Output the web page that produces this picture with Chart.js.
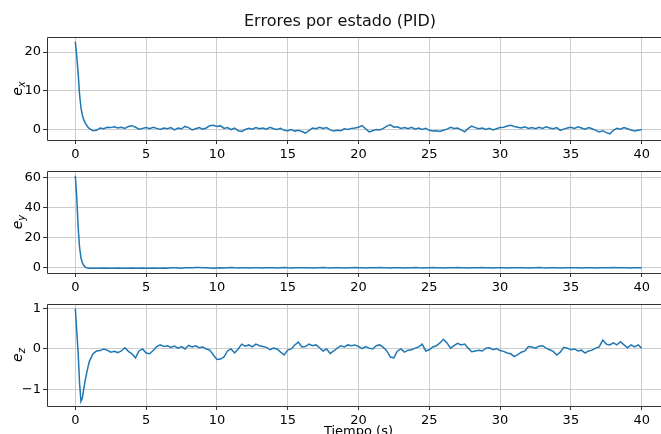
<!DOCTYPE html>
<html>
<head>
<meta charset="utf-8">
<script src="https://cdn.jsdelivr.net/npm/chart.js@4.4.1/dist/chart.umd.min.js"></script>
<style>
  html, body { margin: 0; padding: 0; background: #fff; overflow: hidden; width: 661px; height: 434px; }
  canvas { position: absolute; left: 0; top: 0; }
</style>
</head>
<body>
<canvas id="chartX" width="680" height="450"></canvas>
<canvas id="chartY" width="680" height="450"></canvas>
<canvas id="chartZ" width="680" height="450"></canvas>
<script>
// sample times (s)
const tiempo = [
  0, 0.1, 0.2, 0.3, 0.4, 0.5, 0.6, 0.7, 0.8, 0.9, 1.0,
  1.25, 1.5, 1.75, 2, 2.25, 2.5, 2.75, 3, 3.25, 3.5, 3.75, 4,
  4.25, 4.5, 4.75, 5, 5.25, 5.5, 5.75, 6, 6.25, 6.5, 6.75, 7,
  7.25, 7.5, 7.75, 8, 8.25, 8.5, 8.75, 9, 9.25, 9.5, 9.75, 10,
  10.25, 10.5, 10.75, 11, 11.25, 11.5, 11.75, 12, 12.25, 12.5, 12.75, 13,
  13.25, 13.5, 13.75, 14, 14.25, 14.5, 14.75, 15, 15.25, 15.5, 15.75, 16,
  16.25, 16.5, 16.75, 17, 17.25, 17.5, 17.75, 18, 18.25, 18.5, 18.75, 19,
  19.25, 19.5, 19.75, 20, 20.25, 20.5, 20.75, 21, 21.25, 21.5, 21.75, 22,
  22.25, 22.5, 22.75, 23, 23.25, 23.5, 23.75, 24, 24.25, 24.5, 24.75, 25,
  25.25, 25.5, 25.75, 26, 26.25, 26.5, 26.75, 27, 27.25, 27.5, 27.75, 28,
  28.25, 28.5, 28.75, 29, 29.25, 29.5, 29.75, 30, 30.25, 30.5, 30.75, 31,
  31.25, 31.5, 31.75, 32, 32.25, 32.5, 32.75, 33, 33.25, 33.5, 33.75, 34,
  34.25, 34.5, 34.75, 35, 35.25, 35.5, 35.75, 36, 36.25, 36.5, 36.75, 37,
  37.25, 37.5, 37.75, 38, 38.25, 38.5, 38.75, 39, 39.25, 39.5, 39.75, 40
];

const errX = [
  22.7, 19.0, 14.5, 9.0, 5.6, 3.7, 2.5, 1.7, 1.1, 0.6, 0.2,
  -0.3, -0.2, 0.4, 0.2, 0.6, 0.5, 0.7, 0.4, 0.6, 0.3, 0.8, 1.0,
  0.6, 0.1, 0.3, 0.5, 0.2, 0.6, 0.3, 0.0, 0.4, 0.2, 0.5, -0.1,
  0.4, 0.2, 0.8, 0.5, -0.1, 0.2, 0.5, 0.1, 0.4, 1.0, 1.1, 0.8,
  1.0, 0.3, 0.5, 0.0, 0.4, -0.3, -0.5, 0.0, 0.3, 0.1, 0.5, 0.2,
  0.4, 0.1, 0.6, 0.2, 0.0, 0.3, -0.2, -0.3, 0.0, -0.4, -0.2, -0.5,
  -0.9, -0.3, 0.4, 0.2, 0.6, 0.3, 0.5, -0.1, -0.4, -0.2, -0.3, 0.2,
  0.0, 0.3, 0.4, 0.6, 1.0, 0.2, -0.6, -0.3, 0.0, -0.1, 0.3, 0.9,
  1.2, 0.6, 0.7, 0.3, 0.5, 0.2, 0.6, 0.1, 0.4, 0.0, 0.3, -0.2,
  -0.4, -0.3, -0.5, -0.2, 0.1, 0.6, 0.3, 0.4, -0.1, -0.6, 0.3, 0.9,
  0.5, 0.2, 0.4, 0.0, 0.3, -0.1, 0.2, 0.5, 0.6, 0.9, 1.1, 0.8,
  0.6, 0.4, 0.7, 0.3, 0.5, 0.2, 0.6, 0.3, 0.7, 0.4, 0.2, 0.5,
  -0.2, 0.1, 0.4, 0.6, 0.3, 0.7, 0.4, 0.1, 0.5, 0.2, -0.2, -0.6,
  -0.3, -0.8, -1.1, -0.2, 0.3, 0.1, 0.5, 0.2, -0.1, -0.4, -0.2, 0.0
];

const errY = [
  61, 47, 27, 13.5, 6.5, 3.4, 1.5, 0.5, 0.1, -0.1, -0.2,
  -0.3, -0.2, -0.3, -0.1, -0.2, -0.3, -0.2, -0.1, -0.2, -0.3, -0.2, -0.1,
  -0.2, -0.3, -0.1, -0.2, -0.2, -0.1, -0.3, -0.2, -0.1, -0.2, 0.1, 0.0,
  -0.1, -0.2, 0.0, 0.1, 0.0, 0.2, 0.3, 0.1, 0.0, -0.1, -0.2, -0.1,
  0.0, -0.1, 0.1, 0.2, 0.0, -0.1, 0.1, 0.0, -0.1, 0.0, 0.1, 0.0,
  -0.1, 0.0, 0.1, 0.0, -0.1, 0.1, 0.2, 0.0, -0.1, 0.0, 0.1, 0.0,
  0.1, 0.0, -0.1, 0.0, 0.1, 0.2, 0.0, -0.1, 0.0, 0.1, 0.0, -0.1,
  0.0, 0.1, 0.2, 0.1, 0.0, -0.1, 0.0, 0.1, 0.0, 0.2, 0.1, 0.0,
  -0.1, 0.0, 0.1, 0.0, -0.1, 0.0, 0.1, 0.2, 0.0, -0.1, 0.0, 0.1,
  0.2, 0.1, 0.0, -0.1, 0.0, 0.1, 0.0, 0.2, 0.1, 0.0, -0.1, 0.0,
  0.1, 0.0, 0.2, 0.1, 0.0, -0.1, 0.0, 0.1, 0.0, -0.1, 0.0, 0.1,
  0.0, 0.1, 0.0, -0.1, 0.0, 0.1, 0.2, 0.0, -0.1, 0.0, 0.1, 0.0,
  -0.1, 0.0, 0.1, 0.0, 0.1, 0.0, -0.1, 0.0, 0.1, 0.0, -0.1, 0.0,
  0.1, 0.0, 0.1, 0.2, 0.1, 0.0, 0.1, 0.0, -0.1, 0.0, 0.1, 0.0
];

const errZ = [
  1.0, 0.45, -0.1, -0.85, -1.3, -1.22, -0.98, -0.78, -0.6, -0.44, -0.3,
  -0.12, -0.05, -0.04, 0.0, -0.03, -0.08, -0.06, -0.09, -0.05, 0.03, -0.06, -0.12,
  -0.22, -0.05, 0.0, -0.1, -0.12, -0.04, 0.06, 0.1, 0.06, 0.08, 0.04, 0.07,
  0.02, 0.06, 0.0, 0.09, 0.05, 0.08, 0.03, 0.05, 0.0, -0.03, -0.15, -0.26,
  -0.25, -0.2, -0.05, 0.0, -0.1, 0.0, 0.12, 0.07, 0.1, 0.05, 0.12, 0.08,
  0.06, 0.04, -0.02, 0.02, 0.0, -0.08, -0.15, -0.03, 0.0, 0.1, 0.17, 0.05,
  0.06, 0.12, 0.08, 0.1, 0.03, -0.05, 0.0, -0.11, -0.05, 0.02, 0.08, 0.05,
  0.1, 0.08, 0.1, 0.06, 0.01, 0.06, 0.02, 0.0, 0.08, 0.1, 0.04, -0.05,
  -0.2, -0.22, -0.05, 0.0, -0.08, -0.03, -0.02, 0.02, 0.05, 0.12, -0.05, -0.02,
  0.05, 0.08, 0.15, 0.24, 0.15, 0.02, 0.08, 0.14, 0.1, 0.12, 0.02, -0.07,
  -0.05, -0.03, -0.05, 0.02, 0.03, -0.02, 0.01, -0.04, -0.06, -0.1, -0.12, -0.19,
  -0.14, -0.08, -0.05, 0.06, 0.05, 0.02, 0.07, 0.08, 0.02, -0.02, -0.06, -0.15,
  -0.08, 0.04, 0.02, -0.02, 0.0, -0.05, -0.03, -0.1, -0.05, -0.03, 0.02, 0.05,
  0.22, 0.12, 0.1, 0.15, 0.1, 0.18, 0.1, 0.03, 0.1, 0.05, 0.1, 0.02
];

const ticksTiempo = [0, 5, 10, 15, 20, 25, 30, 35, 40];
const ticksX = [0, 10, 20];
const ticksY = [0, 20, 40, 60];
const ticksZ = [-1, 0, 1];

Chart.defaults.font.family = "'DejaVu Sans', sans-serif";
Chart.defaults.font.size = 13;
Chart.defaults.color = '#000';

const GRID = '#cccccc';
const SPINE = '#333';

// top/left/bottom frame of the plot area (right one is off the picture)
const spines = {
  id: 'spines',
  afterDraw(chart) {
    const { ctx, chartArea: a } = chart;
    const l = Math.round(a.left) + 0.5, t = Math.round(a.top) + 0.5;
    const b = Math.round(a.bottom) + 0.5, r = a.right;
    ctx.save();
    ctx.strokeStyle = SPINE;
    ctx.lineWidth = 1;
    ctx.beginPath();
    ctx.moveTo(r, t); ctx.lineTo(l, t); ctx.lineTo(l, b); ctx.lineTo(r, b);
    ctx.stroke();
    ctx.restore();
  }
};

// y label with subscript (e_x, e_y, e_z)
const yLabel = {
  id: 'ylab',
  afterDraw(chart, args, o) {
    if (!o.main) return;
    const { ctx, chartArea: a } = chart;
    const big = "italic 14px 'DejaVu Sans'";
    const small = "italic 10px 'DejaVu Sans'";
    ctx.save();
    ctx.translate(18, (a.top + a.bottom) / 2);
    ctx.rotate(-Math.PI / 2);
    ctx.fillStyle = '#000';
    ctx.textBaseline = 'alphabetic';
    ctx.font = big;
    const w1 = ctx.measureText(o.main).width;
    ctx.font = small;
    const w2 = ctx.measureText(o.sub).width;
    const x0 = -(w1 + w2) / 2;
    ctx.font = big;
    ctx.fillText(o.main, x0, 4);
    ctx.font = small;
    ctx.fillText(o.sub, x0 + w1, 7);
    ctx.restore();
  }
};

function ejeTiempo(conTitulo) {
  return {
    type: 'linear',
    min: -2,
    max: 42,
    afterBuildTicks: s => { s.ticks = ticksTiempo.map(v => ({ value: v })); },
    afterFit: s => { s.height = conTitulo ? 44 : 22; },
    grid: { color: GRID, lineWidth: 1, drawTicks: true, tickLength: 4, tickColor: SPINE },
    border: { display: false },
    ticks: { padding: 3, maxRotation: 0, autoSkip: false },
    title: { display: conTitulo, text: 'Tiempo (s)', font: { size: 13 }, padding: { top: 0, bottom: 11 } }
  };
}

function ejeError(min, max, ticks) {
  return {
    type: 'linear',
    min: min,
    max: max,
    afterBuildTicks: s => { s.ticks = ticks.map(v => ({ value: v })); },
    afterFit: s => { s.width = 37; },
    grid: { color: GRID, lineWidth: 1, drawTicks: true, tickLength: 4, tickColor: SPINE },
    border: { display: false },
    ticks: {
      padding: 2,
      callback: v => (v < 0 ? '\u2212' + Math.abs(v) : String(v))
    }
  };
}

function grafica(id, valores, sub, yMin, yMax, yTicks, padding, conTitulo, tituloFig) {
  return new Chart(document.getElementById(id), {
    type: 'line',
    data: {
      datasets: [{
        data: tiempo.map((t, i) => ({ x: t, y: valores[i] })),
        borderColor: '#1f77b4',
        borderWidth: 1.5,
        pointRadius: 0,
        fill: false,
        tension: 0
      }]
    },
    options: {
      responsive: false,
      animation: false,
      events: [],
      layout: { padding: padding },
      scales: {
        x: ejeTiempo(conTitulo),
        y: ejeError(yMin, yMax, yTicks)
      },
      plugins: {
        legend: { display: false },
        tooltip: { enabled: false },
        title: {
          display: !!tituloFig,
          text: tituloFig || '',
          color: '#111',
          font: { size: 16, weight: 'normal' },
          padding: { top: 12.5, bottom: 5.3 }
        },
        ylab: { main: 'e', sub: sub }
      }
    },
    plugins: [spines, yLabel]
  });
}

grafica('chartX', errX, 'x', -2.7, 23.9, ticksX,
  { top: 0, left: 10, right: 10, bottom: 288 }, false, 'Errores por estado (PID)');
grafica('chartY', errY, 'y', -3.4, 64.1, ticksY,
  { top: 171, left: 10, right: 10, bottom: 155 }, false, null);
grafica('chartZ', errZ, 'z', -1.415, 1.115, ticksZ,
  { top: 304, left: 10, right: 10, bottom: 0 }, true, null);
</script>
</body>
</html>
